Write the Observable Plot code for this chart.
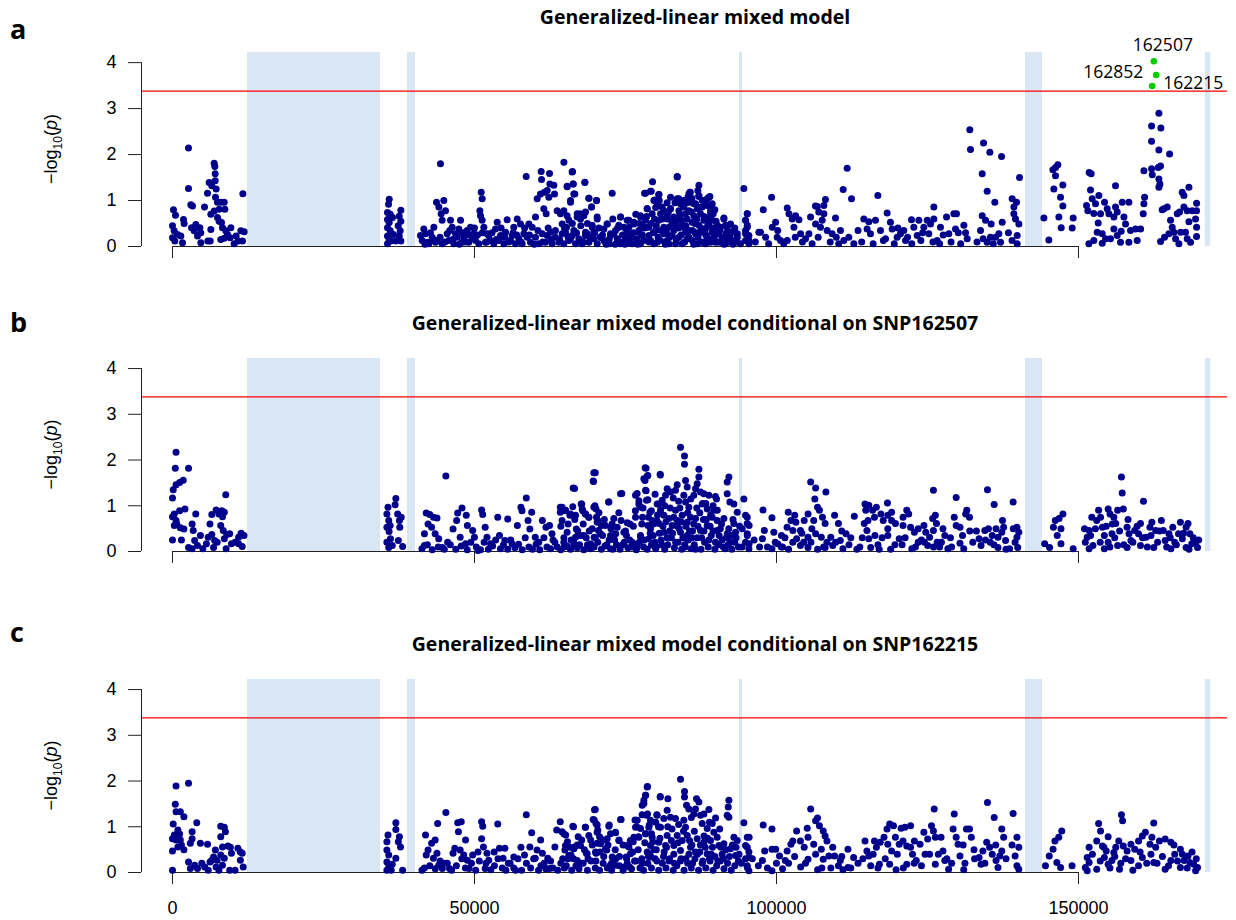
<!DOCTYPE html>
<html>
<head>
<meta charset="utf-8">
<script src="https://cdn.jsdelivr.net/npm/d3@7"></script>
<script src="https://cdn.jsdelivr.net/npm/@observablehq/plot@0.6"></script>
<style>
  body { margin: 0; background: #fff; }
  #chart { position: relative; width: 1236px; height: 920px; overflow: hidden; background: #fff; }
  #chart svg { position: absolute; left: 0; }
  .ptitle { position: absolute; font-family: "Open Sans", Lato, sans-serif; font-weight: 700; font-size: 19.5px; line-height: 1; white-space: nowrap; transform: translateX(-50%); color: #000; }
  .pletter { position: absolute; font-family: "Open Sans", Lato, sans-serif; font-weight: 700; font-size: 27px; line-height: 1; color: #000; }
</style>
</head>
<body>
<div id="chart"></div>
<script>
// ---------- data ----------
const panelLetters = ["a", "b", "c"];
const panelTitles = [
  "Generalized-linear mixed model",
  "Generalized-linear mixed model conditional on SNP162507",
  "Generalized-linear mixed model conditional on SNP162215"
];
const xTicks = [0, 50000, 100000, 150000];
const yTicks = [0, 1, 2, 3, 4];
const threshold = 3.38;
const gapStarts = [12420, 38900, 93870, 141230, 171000];
const gapEnds   = [34440, 40230, 94370, 144040, 171900];

const highlightPos = [162480, 162870, 162210];
const highlightLogp = [4.03, 3.73, 3.49];
const highlightLabels = ["162507", "162852", "162215"];

const snpsA = [
[165,0.80],[500,0.68],[0,0.45],[275,0.34],[0,0.19],[390,0.12],[830,0.26],[1380,0.23],[1660,0.08],[1820,0.59],[1930,0.50],[2650,2.14],[2650,1.26],[3040,0.91],[3310,0.88],[3150,0.41],[3590,0.34],[3860,0.48],[4140,0.23],[4530,0.41],[4690,0.08],[5300,0.86],[5800,1.16],[5850,0.12],[6240,0.12],[6070,1.39],[6350,0.70],[6350,0.37],[6510,1.32],[6900,1.81],[7010,1.74],[7070,1.58],[7070,1.43],[7230,1.25],[7120,1.07],[6900,0.77],[7450,0.96],[7730,0.81],[8000,0.96],[8560,0.96],[8670,0.81],[7450,0.63],[7730,0.55],[8110,0.52],[8280,0.41],[8830,0.34],[8560,0.18],[9110,0.26],[9660,0.41],[9550,0.19],[10210,0.06],[10540,0.23],[10870,0.12],[11320,0.34],[11650,1.15],[11870,0.32],[11590,0.12],[8000,0.15],[4690,0.30],
[35880,1.03],[35770,0.92],[35600,0.74],[36050,0.70],[35600,0.59],[35880,0.52],[35600,0.41],[36050,0.34],[35600,0.23],[35880,0.15],[35600,0.06],[36430,0.63],[36600,0.26],[36980,0.12],[37810,0.79],[37540,0.66],[37810,0.55],[37370,0.45],[37700,0.34],[37540,0.23],[37810,0.12],[36160,0.12],
[41610,0.38],[41890,0.28],[41340,0.13],[42160,0.09],[42990,0.20],[43270,0.42],[43710,0.96],[44100,0.86],[44480,0.71],[44920,1.00],[44370,1.80],[44650,0.57],[45200,0.78],[43820,0.13],[45480,0.28],[46030,0.57],[46310,0.42],[46860,0.28],[47690,0.57],[47410,0.38],[48240,0.20],[48790,0.35],[49340,0.42],[49890,0.28],[50170,0.13],[50890,0.78],[51110,1.18],[51270,1.04],[51000,0.67],[51270,0.57],[51550,0.42],[52100,0.28],[52650,0.13],[53760,0.53],[53480,0.38],[54310,0.24],[55410,0.58],[55960,0.13],[56510,0.42],[57070,0.60],[57620,0.49],[58560,1.52],[58170,0.28],[59000,0.49],[59550,0.42],[60100,0.64],[60380,1.04],[60930,1.14],[61040,1.63],[61100,1.46],[61590,1.18],[62040,1.22],[62420,1.59],[62480,1.36],[62310,1.07],[63140,1.33],[63250,1.14],[61480,0.82],[61870,0.71],[62590,0.31],[62040,0.24],[63690,0.78],[64240,0.71],[64800,1.83],[65350,1.30],[66230,1.63],[66340,1.36],[66450,1.14],[65900,1.00],[65240,0.42],[65630,0.57],[66450,0.35],[67000,0.64],[67550,0.71],[68270,1.40],[68110,0.67],[68940,1.05],[69380,0.86],[70210,1.00],[70320,0.60],[68660,0.28],[69490,0.42],[70870,0.20],[71970,0.49],[72800,1.16],[73080,0.28],[74180,0.64],[74730,0.42],[75560,0.57],[76390,0.49],[77490,0.64],[78320,1.16],[78600,0.82],[79260,1.20],[79480,1.41],[79700,1.00],[80250,0.93],[80530,1.13],[81360,0.78],[81910,0.67],[82460,0.82],[83570,1.52],[83840,1.04],[83290,0.57],[84670,0.86],[85330,1.07],[85660,1.18],[86320,0.93],[87150,1.33],[87150,1.11],[87700,1.00],[88530,0.89],[88810,1.07],[89080,0.71],[89360,0.57],[89910,0.35],[91290,0.60],[91840,0.42],[92950,0.31],[93500,0.20],[95160,0.71],[94600,1.26],[94880,0.57],[95160,0.42],[95430,0.13],[94880,0.28],
[41060,0.24],[42440,0.06],[43540,0.09],[44650,0.06],[45750,0.13],[46580,0.06],[47130,0.20],[47960,0.09],[49060,0.09],[49620,0.20],[50720,0.06],[51820,0.09],[52380,0.24],[53200,0.06],[54030,0.13],[54860,0.06],[55140,0.31],[56240,0.24],[56790,0.06],[57340,0.17],[57900,0.06],[58720,0.20],[59270,0.09],[60100,0.20],[60660,0.06],[61210,0.28],[61760,0.09],[62860,0.06],[63410,0.20],[63970,0.09],[64520,0.28],[64800,0.06],[65630,0.13],[66180,0.24],[66730,0.06],[67280,0.17],[67830,0.06],[68380,0.24],[68940,0.09],[69760,0.17],[70320,0.06],[71420,0.13],[72250,0.06],[72520,0.28],[73630,0.17],[74180,0.06],[75010,0.13],[75840,0.28],[76110,0.06],[76940,0.17],[77210,0.35],
[66170,1.62],[65340,1.31],[66340,1.36],[68270,1.39],[66610,1.14],[65900,0.96],[64790,0.78],[65340,0.67],[64520,0.49],[65070,0.31],[65900,0.17],[67000,0.71],[67550,0.60],[68380,0.75],[68930,1.05],[69370,0.86],[70200,1.00],[70310,0.64],[69480,0.46],[68380,0.31],[69760,0.31],[67550,0.13],[71690,0.09],[71970,0.49],[73350,0.35],[74180,0.64],[73900,0.46],[75280,0.57],[75560,0.42],[75000,0.20],[76380,0.53],[77490,0.67],[77210,0.31],[78150,1.16],[79140,1.20],[80520,1.13],[79860,1.01],[78590,0.82],[78320,0.57],[79420,0.71],[80800,0.71],[80520,0.57],[81350,0.42],[79970,0.35],[78870,0.24],[78040,0.13],[80800,0.13],[79700,0.06],[83560,1.51],[83560,1.04],[82460,0.82],[83010,0.64],[83840,0.78],[81900,0.60],[82180,0.42],[83280,0.46],[84110,0.60],[84660,0.42],[82730,0.24],[83840,0.20],[81900,0.13],[83280,0.06],[84390,0.06],[84940,0.31],[85490,1.14],[85730,1.18],[86980,1.22],[87150,1.09],[85770,0.96],[86600,0.93],[85490,0.78],[86320,0.67],[86870,0.82],[87420,0.71],[86050,0.53],[87150,0.46],[85490,0.35],[86600,0.28],[87700,0.31],[86050,0.13],[87420,0.09],[88530,1.04],[88970,1.09],[89360,0.93],[89080,0.78],[89520,0.71],[88530,0.60],[88810,0.46],[88530,0.20],[89360,0.31],[89910,0.09],[90460,0.28],[91290,0.62],[91560,0.46],[92120,0.31],[92950,0.35],[91840,0.17],[93220,0.13],[90740,0.09],[95160,0.71],[94880,0.57],[95160,0.46],[94880,0.35],[95430,0.24],[94880,0.13],[95430,0.06],[97080,0.31],
[74180,0.09],[75830,0.07],[76940,0.13],[72520,0.24],[70860,0.20],[71420,0.38],[78870,0.42],[81350,0.28],[81080,0.86],[82460,1.07],[84110,0.93],[84940,0.71],[84660,1.00],[87700,0.86],[87980,0.57],[88250,0.38],[90180,0.46],[90740,0.42],[92390,0.49],[93500,0.28],[85220,0.17],[86870,0.06],[88250,0.06],[89080,0.09],[91560,0.06],[92670,0.09],[94050,0.06],[82180,0.06],[80250,0.09],[79140,0.13],[77490,0.06],[78590,0.42],[77770,0.46],
[74500,0.25],[75200,0.35],[75700,0.15],[76300,0.30],[76700,0.70],[77000,0.05],[77800,0.25],[78100,0.40],[78500,0.65],[78900,0.10],[79200,0.50],[79600,0.30],[80000,0.85],[80100,0.45],[80400,0.20],[80900,0.35],[81100,0.60],[81600,0.05],[81800,0.30],[82100,0.75],[82300,0.20],[82700,0.50],[83000,0.35],[83200,0.95],[83400,0.15],[83800,0.40],[84000,0.70],[84200,0.25],[84500,0.90],[84800,0.10],[85000,0.45],[85200,0.60],[85500,0.20],[85900,0.75],[86100,0.35],[86300,0.05],[86500,0.50],[86800,0.60],[87000,0.20],[87300,0.85],[87500,0.40],[87800,0.10],[88000,0.65],[88300,0.25],[88600,0.45],[88900,0.15],[89100,0.90],[89400,0.40],[89700,0.20],[90000,0.55],[90300,0.10],[90600,0.35],[91000,0.20],[91300,0.05],[91700,0.30],[92000,0.10],[92300,0.20],[92800,0.05],[93100,0.40],[93400,0.10],[80600,1.00],[81900,0.95],[85100,0.95],[86000,1.05],[88000,1.00],[89800,0.80],[82900,0.60],[84300,0.50],[86700,0.30],[79800,0.60],[77300,0.50],[76000,0.20],[74900,0.05],[73700,0.40],[72900,0.60],
[41800,0.05],[42700,0.30],[43100,0.15],[44300,0.20],[45100,0.10],[45900,0.35],[46400,0.15],[47500,0.05],[48000,0.30],[48500,0.10],[49100,0.25],[50000,0.40],[50500,0.25],[51300,0.30],[52000,0.10],[52900,0.30],[53600,0.15],[54400,0.40],[55000,0.20],[55700,0.10],[56400,0.30],[57000,0.25],[57700,0.10],[58300,0.40],[59100,0.25],[59900,0.05],[60500,0.35],[61300,0.10],[62200,0.40],[62700,0.15],[63400,0.35],[64100,0.15],[64900,0.40],[65500,0.20],[66200,0.50],[66900,0.30],[67600,0.45],[68000,0.10],[68700,0.50],[69100,0.20],[69900,0.30],[70600,0.40],[71200,0.25],[71800,0.05],[72300,0.15],[73300,0.05],
[97360,0.31],[97810,0.80],[98190,0.20],[99190,1.07],[99300,0.42],[99850,0.53],[100120,0.20],[100680,0.13],[101780,0.84],[102060,0.71],[102610,0.60],[103160,0.67],[103720,0.58],[102890,0.42],[103990,0.28],[104810,0.17],[105640,0.64],[106750,0.87],[106470,0.49],[105370,0.28],[101780,0.13],
[106450,0.88],[107000,0.75],[107840,0.89],[108110,1.02],[107840,0.71],[107560,0.57],[107280,0.42],[108390,0.35],[109210,0.28],[109770,0.62],[110590,0.35],[111040,1.24],[111700,1.70],[112420,1.04],[111970,0.20],[111150,0.13],[112800,0.06],[114460,0.60],[115290,0.54],[115000,0.38],[115560,0.28],[116390,0.57],[116780,1.11],[117220,0.35],[118050,0.17],[118320,0.73],[118870,0.53],[119150,0.38],[119980,0.20],[120530,0.28],[121080,0.35],[121360,0.13],[122350,0.58],[122740,0.42],[123290,0.24],[123570,0.57],[124400,0.42],[124950,0.57],[125220,0.28],[125500,0.49],[126050,0.86],[126050,0.60],[126600,0.13],[127150,0.42],[128150,0.64],[128530,0.28],[129360,0.71],[129800,0.71],[129640,0.38],[131020,0.46],[131570,0.17],[132010,2.54],[132120,2.11],[134060,1.58],[134280,2.25],[135320,2.05],[137260,1.96],[134880,1.20],[134060,0.67],[134610,0.57],[133780,0.35],[134220,0.17],[134880,0.09],[135540,0.49],[136150,0.96],[136260,0.20],[136810,0.28],[137370,0.53],[137090,0.09],[135430,0.20],[139020,1.04],[139740,0.96],[140240,1.50],[139300,0.71],[139570,0.60],[140130,0.49],[139850,0.24],[139850,0.06],[139300,0.86],
[96500,0.10],[98700,0.06],[100200,0.35],[101200,0.06],[103100,0.20],[104300,0.10],[105900,0.06],[106900,0.20],[108900,0.10],[109900,0.20],[110300,0.06],[113500,0.35],[114100,0.10],[116000,0.06],[117700,0.13],[119500,0.06],[120100,0.40],[121700,0.20],[122400,0.06],[123900,0.13],[124200,0.30],[125900,0.10],[127000,0.06],[127600,0.25],[128900,0.10],[130100,0.30],[130500,0.06],[131300,0.30],[133200,0.10],[135900,0.06],[138400,0.30],[139000,0.13],
[144270,0.62],[145090,0.14],[145760,1.67],[146200,1.72],[146580,1.78],[146200,1.54],[145920,1.25],[147410,1.34],[147030,1.07],[147410,0.88],[146750,0.64],[147140,0.41],[149120,0.62],[148960,0.40],[151770,1.61],[152100,1.58],[151990,1.23],[152270,1.04],[152820,0.93],[153370,1.11],[151330,0.89],[151550,0.78],[152540,0.72],[153260,0.51],[153650,0.71],[154310,0.96],[154750,0.82],[155030,0.71],[156130,1.32],[156130,0.86],[155860,0.64],[156410,0.75],[157240,0.96],[158340,0.96],[157520,0.64],[157790,0.49],[157070,0.33],[158620,0.35],[159450,0.38],[160280,0.38],[153100,0.31],[153930,0.28],[155860,0.38],[156410,0.24],[155300,0.17],[156960,0.09],[158340,0.09],[159720,0.13],[151720,0.06],[152540,0.13],[153930,0.07],[154480,0.17],
[160830,1.65],[162100,1.69],[162210,1.56],[162100,2.29],[162100,2.62],[163310,2.90],[163640,2.58],[163310,2.10],[163200,1.72],[163580,1.75],[163310,1.47],[163480,1.36],[163310,1.29],[165080,2.01],[160940,1.07],[160830,0.93],[160720,0.71],[164140,0.82],[164690,0.86],[163860,0.80],[163590,0.11],[164240,0.20],[165240,0.57],[165520,0.42],[165790,0.31],[166350,0.71],[166730,0.75],[167170,1.18],[167450,1.11],[168280,1.29],[167450,0.86],[168000,0.78],[168280,0.54],[168830,0.78],[169550,0.94],[169550,0.78],[169380,0.60],[169550,0.42],[169550,0.22],[166900,0.31],[167720,0.31],[168000,0.17],[168550,0.09],[166070,0.17],[166620,0.06],[164970,0.28]
];

const snpsB = [
[590,2.17],[470,1.82],[2660,1.82],[120,1.35],[0,1.17],[590,1.46],[1180,1.51],[1780,1.56],[2070,0.93],[1180,0.89],[300,0.82],[0,0.76],[590,0.68],[300,0.57],[710,0.60],[1300,0.52],[1890,0.49],[0,0.25],[1480,0.25],[3250,0.60],[3430,0.46],[3850,0.82],[3670,0.24],[2660,0.09],[3250,0.06],[4140,0.13],[4620,0.35],[5030,0.06],[5620,0.17],[5920,0.31],[6210,0.60],[6510,0.37],[6800,0.09],[6980,0.24],[6510,0.81],[7220,0.91],[7690,0.82],[8170,0.89],[8580,0.86],[8820,1.24],[8280,0.76],[7990,0.57],[8400,0.46],[8990,0.37],[9470,0.39],[8580,0.28],[7400,0.20],[8880,0.06],[9760,0.17],[10360,0.20],[10950,0.31],[11360,0.40],[11830,0.35],[11540,0.11],[10950,0.17],
[35680,0.97],[35500,0.82],[35800,0.68],[35500,0.53],[35860,0.44],[35500,0.20],[35800,0.09],[36090,0.28],[36980,1.16],[36860,1.02],[37280,0.82],[37570,0.68],[37870,0.75],[37630,0.53],[37390,0.24],[38100,0.11],[36390,0.13],[36030,0.57],
[41710,0.13],[42010,0.84],[42600,0.81],[42310,0.60],[41710,0.39],[42900,0.53],[43200,0.75],[43790,0.73],[43490,0.39],[44080,0.28],[44670,0.09],[45260,1.65],[45560,0.20],[46450,0.49],[47040,0.68],[47220,0.84],[47930,0.95],[48640,0.79],[47630,0.31],[48820,0.57],[48520,0.17],[49700,0.46],[49990,0.31],[50580,0.02],[51180,0.91],[51360,0.81],[51770,0.53],[52070,0.31],[52660,0.17],[53850,0.75],[54140,0.35],[55030,0.24],[55500,0.71],[56210,0.17],[57100,0.57],[57690,0.97],[57870,0.89],[58580,1.17],[58870,0.68],[59470,0.86],[59170,0.49],[60060,0.31],[60650,0.20],[61240,0.68],[61830,0.53],[62420,0.57],[62830,0.39],[63310,0.20],[64200,0.97],[64200,0.86],[64500,0.68],[65090,0.89],[65800,0.79],[66570,1.38],[66270,0.98],[66860,0.49],[67750,1.04],[67930,0.89],[68350,0.82],[68930,0.75],[69710,1.53],[70000,1.72],[69940,1.00],[70120,0.93],[70420,0.68],[70530,0.46],[69820,0.31],[71010,0.57],[72200,1.08],[72790,0.60],[73380,0.39],[74390,1.27],[74270,0.68],[75160,0.35],[75750,0.60],[76640,0.89],[76930,1.27],[77230,1.11],[77520,0.97],[78230,1.55],[78410,1.82],[78700,1.66],[78410,1.33],[78700,1.13],[77820,0.75],[79290,0.89],[80470,1.04],[80770,1.67],[80180,0.68],[78700,0.57],[77520,0.31],[76340,0.17],[79590,0.35],
[41300,0.06],[42200,0.15],[43000,0.04],[44000,0.10],[45000,0.05],[46000,0.15],[46900,0.05],[47800,0.12],[48800,0.04],[49400,0.20],[50300,0.10],[51000,0.04],[51600,0.20],[52300,0.05],[53000,0.12],[53500,0.25],[54300,0.06],[54800,0.15],[55500,0.05],[56000,0.25],[56700,0.08],[57300,0.16],[57900,0.04],[58400,0.30],[59000,0.10],[59600,0.05],[60200,0.16],[60800,0.04],[61500,0.30],[62000,0.10],[62600,0.06],[63000,0.25],[63700,0.10],[64300,0.04],[64800,0.30],[65300,0.12],[65900,0.05],[66400,0.20],[67000,0.08],[67500,0.35],[68100,0.04],[68700,0.15],[69200,0.06],[69800,0.10],[70400,0.20],[71000,0.05],[71600,0.12],[72300,0.25],[72900,0.05],[73500,0.15],[74100,0.05],[74800,0.20],[75400,0.08],[76000,0.10],[76800,0.04],[77300,0.20],[78000,0.10],[78600,0.05],[79300,0.15],[80000,0.06],
[66340,1.39],[69760,1.72],[69650,1.54],[67660,1.04],[67830,0.93],[66720,0.79],[65900,0.82],[65070,0.90],[64520,0.97],[68380,0.82],[68930,0.75],[69760,0.97],[70200,0.75],[70310,0.64],[72250,1.08],[74180,1.26],[71690,0.57],[73070,0.72],[73630,0.53],[75280,0.63],[74730,0.42],[72520,0.35],[70860,0.39],[69480,0.50],[68110,0.35],[66720,0.31],[65340,0.42],[64790,0.20],[66450,0.13],[69210,0.17],[72520,0.06],[76660,1.23],[77210,1.04],[76660,0.75],[77490,0.35],[76110,0.20],[78260,1.83],[78040,1.59],[78590,1.65],[78320,1.34],[78480,1.12],[79040,0.86],[79420,0.68],[79140,0.50],[78870,0.28],[79700,0.13],[80740,1.69],[80250,1.04],[80800,0.90],[81080,1.12],[81630,1.23],[81900,1.37],[82460,1.30],[83280,1.34],[83560,1.46],[82900,1.17],[81350,0.79],[82180,0.72],[80520,0.61],[81350,0.42],[82730,0.57],[83280,0.90],[83560,0.68],[84110,2.28],[84770,2.09],[84770,1.91],[84940,1.55],[85220,1.41],[84660,1.23],[84940,1.08],[85490,0.97],[84390,0.79],[85220,0.64],[85770,0.75],[84110,0.42],[85220,0.35],[86320,1.23],[86600,1.37],[87150,1.80],[87150,1.63],[86870,1.48],[87420,1.30],[87980,1.26],[88810,1.23],[87700,1.04],[88530,0.93],[89630,0.90],[90070,1.15],[89360,0.75],[90180,0.68],[91290,0.72],[86600,0.72],[87420,0.46],[88530,0.57],[90180,0.46],[91840,1.52],[92120,1.63],[91840,1.26],[92280,1.08],[92950,1.04],[93500,0.86],[92950,0.61],[91840,0.39],[93220,0.42],[94600,1.15],[94880,0.79],[95160,0.61],[94330,0.50],[95160,0.39],[94880,0.20],[95430,0.06],
[80100,0.10],[80900,0.25],[81500,0.05],[82000,0.15],[82600,0.30],[83100,0.08],[83700,0.20],[84300,0.05],[84800,0.15],[85400,0.25],[85900,0.06],[86400,0.15],[86900,0.30],[87500,0.05],[88100,0.20],[88700,0.10],[89200,0.35],[89800,0.05],[90400,0.15],[91000,0.25],[91500,0.06],[92000,0.15],[92600,0.05],[93100,0.20],[93700,0.10],[81200,0.55],[82300,0.45],[83900,0.50],[85000,0.55],[86100,0.45],[87900,0.70],[89000,0.55],[90700,0.50],[92500,0.35],[84000,0.95],[83000,0.75],[88300,1.05],[89500,1.00],[86800,0.95],
[64300,0.55],[64900,0.10],[65500,0.60],[66000,0.25],[66600,0.70],[67100,0.45],[67400,0.15],[68000,0.60],[68500,0.30],[69000,0.45],[69500,0.10],[70000,0.30],[70600,0.85],[71200,0.35],[71500,0.70],[71900,0.15],[72600,0.50],[73200,0.25],[73900,0.85],[74500,0.15],[75000,0.45],[75700,0.25],[76300,0.55],[76900,0.10],[77700,0.60],[78100,0.25],[78800,0.75],[79100,0.40],[79600,0.60],[79900,0.20],[80300,0.80],[80600,0.40],[81000,0.15],[81700,0.65],[81900,0.30],[82400,0.95],[82800,0.40],[83300,0.20],[83600,0.55],[84200,0.65],[84500,0.30],[84900,0.10],[85300,0.85],[85600,0.45],[86000,0.30],[86300,0.60],[86600,0.05],[87000,0.55],[87300,0.85],[87600,0.30],[88000,0.45],[88400,0.70],[88800,0.25],[89100,0.80],[89500,0.45],[89900,0.20],[90200,0.90],[90500,0.35],[90900,0.60],[91200,0.10],[91700,0.30],[92100,0.50],[92400,0.20],[92800,0.70],[93300,0.30],[93900,0.55],[94300,0.10],[83800,1.10],[85800,1.15],[87800,1.05],[81500,1.00],[89900,1.20],[79900,1.25],[77900,0.95],
[95160,0.75],[95470,0.57],[95160,0.35],[95470,0.17],[97770,0.91],[97990,0.46],[97670,0.28],[99250,0.74],[99560,0.42],[99250,0.06],[100190,0.17],[100820,0.35],[101760,0.53],[101950,0.86],[102390,0.68],[103020,0.79],[103210,0.64],[102710,0.46],[103340,0.28],[103960,0.46],[104590,0.68],[105220,0.82],[105660,1.52],[106480,1.39],[106350,1.15],[106790,0.97],[107110,0.90],[107610,0.75],[108180,1.30],[108050,0.61],[106160,0.68],[105850,0.50],[105220,0.31],[106480,0.39],[107420,0.31],[108360,0.20],[108990,0.31],[109620,0.79],[110250,0.61],[110570,0.24],[111510,0.39],[109310,0.13],[108050,0.09],[105220,0.09],[103960,0.13],[112890,0.77],[114650,1.04],[114780,0.90],[115280,1.01],[115150,0.68],[114530,0.61],[114970,0.46],[115280,0.28],[115600,0.09],[115910,0.90],[116220,0.75],[116540,0.97],[117290,0.82],[117670,0.68],[118370,1.06],[118430,0.79],[119060,0.68],[119060,0.86],[118430,0.50],[117480,0.30],[118430,0.35],[120320,0.28],[119690,0.61],[120950,0.75],[121570,0.90],[121890,0.82],[120950,0.57],[122200,0.53],[122830,0.42],[123460,0.50],[124410,0.57],[124720,0.42],[125350,0.31],[123460,0.20],[125040,0.13],[125980,1.34],[125860,0.72],[126300,0.79],[126490,0.61],[125980,0.46],[126610,0.20],[127560,0.50],[127870,0.35],[128370,0.06],[129750,1.18],[129430,0.75],[129750,0.57],[130380,0.53],[131510,0.90],[131950,0.75],[131320,0.82],[130380,0.18],[133540,0.28],[133860,0.13],[134490,0.46],[134930,1.35],[135090,0.50],[135720,0.35],[135400,0.20],[136040,1.03],[136350,0.50],[136670,0.31],[136670,0.09],[137420,0.68],[137610,0.53],[137300,0.42],[137920,0.24],[139180,1.08],[139810,0.53],[140120,0.42],[139810,0.31],[139500,0.20],[139940,0.09],
[98500,0.10],[101000,0.10],[102000,0.05],[104500,0.20],[106800,0.05],[109800,0.20],[111000,0.06],[112300,0.30],[113800,0.10],[116800,0.15],[118900,0.05],[120800,0.15],[122400,0.06],[124000,0.25],[127000,0.10],[128800,0.30],[131000,0.06],[132500,0.20],[133100,0.45],[138600,0.06],
[96300,0.25],[97200,0.10],[99800,0.20],[100800,0.10],[101400,0.30],[102700,0.20],[104200,0.40],[105700,0.20],[107800,0.10],[110800,0.45],[112000,0.15],[113300,0.05],[114200,0.30],[116300,0.35],[117000,0.05],[119600,0.15],[121300,0.30],[123000,0.10],[124500,0.20],[126000,0.10],[127300,0.20],[129000,0.10],[130800,0.35],[132000,0.45],[134600,0.25],[136000,0.15],[138000,0.05],[139200,0.50],
[144400,0.17],[145220,0.09],[145850,0.53],[146160,0.68],[146790,0.72],[147420,0.82],[147100,0.50],[146480,0.35],[147100,0.17],[149120,0.06],[151440,0.31],[151130,0.20],[151760,0.46],[152390,0.13],[153020,0.68],[153330,0.90],[153650,0.75],[153960,0.53],[154280,0.35],[154910,0.93],[155220,0.82],[155850,0.75],[156170,0.61],[156480,0.90],[157110,1.63],[157230,1.28],[157420,0.93],[158050,0.53],[158370,0.39],[158680,0.24],[155540,0.39],[154910,0.20],[156480,0.13],[159310,0.46],[159940,0.39],[160760,1.10],[160260,0.61],[161200,0.31],[161830,0.53],[162150,0.64],[162780,0.46],[163090,0.20],[163720,0.68],[164040,0.46],[164350,0.24],[164980,0.39],[165610,0.53],[165930,0.20],[166870,0.64],[166560,0.39],[167190,0.28],[167820,0.53],[168130,0.61],[168450,0.39],[168760,0.17],[169390,0.20],[169710,0.09],[167820,0.09],[165300,0.06],[162460,0.09],[160260,0.13],[158050,0.09],[154280,0.06],[151760,0.06],
[151000,0.50],[152000,0.35],[152800,0.50],[153600,0.20],[154600,0.55],[155200,0.10],[156000,0.30],[156800,0.45],[157500,0.15],[158200,0.70],[159000,0.20],[159700,0.55],[160600,0.30],[161400,0.10],[162000,0.35],[163400,0.45],[164600,0.10],[165200,0.30],[166200,0.15],[167400,0.40],[168300,0.05],[169000,0.30],[169900,0.25],[152200,0.75],[155600,0.60]
];

const snpsC = [
[0,0.05],[590,1.89],[2660,1.95],[470,1.49],[590,1.33],[1300,1.33],[1890,1.22],[120,1.06],[300,0.82],[0,0.74],[590,0.71],[890,0.93],[1180,0.84],[1300,0.71],[1480,0.60],[1890,0.50],[0,0.47],[890,0.56],[3250,0.89],[4020,1.09],[3250,0.74],[2960,0.64],[2660,0.23],[2960,0.09],[3670,0.16],[4140,0.09],[4620,0.64],[4850,0.20],[5330,0.12],[5800,0.62],[6210,0.23],[5920,0.05],[6800,0.34],[7100,0.49],[7220,0.12],[7990,1.01],[8580,0.99],[8760,0.89],[7990,0.78],[8280,0.56],[7990,0.38],[8580,0.31],[8280,0.16],[7690,0.05],[9170,0.58],[9580,0.55],[9470,0.05],[9760,0.42],[10360,0.05],[10830,0.53],[11240,0.45],[11240,0.27],[11710,0.12],[11540,0.42],[6510,0.27],[7400,0.27],
[35500,0.67],[35680,0.82],[35500,0.49],[35800,0.38],[35500,0.23],[35800,0.12],[35500,0.05],[36210,0.05],[36980,1.09],[36980,0.94],[37570,0.78],[37750,0.56],[37390,0.67],[36980,0.31],[38100,0.05],[36390,0.18],
[41710,0.10],[41890,0.82],[42310,0.49],[42010,0.38],[42900,0.64],[43490,0.71],[43200,0.31],[43900,1.07],[43790,0.42],[44080,0.16],[44670,0.09],[45260,1.31],[44970,0.20],[45860,0.09],[46450,0.42],[46740,0.53],[47220,1.09],[47810,1.11],[47340,0.89],[47630,0.49],[48520,0.71],[48220,0.38],[48820,0.27],[49110,0.09],[49700,0.38],[50580,0.45],[51180,1.11],[51360,1.01],[51180,0.74],[51480,0.56],[52070,0.42],[52360,0.27],[51770,0.09],[53850,1.06],[53260,0.45],[54140,0.53],[54730,0.31],[55030,0.53],[55620,0.20],[56510,0.34],[56800,0.05],[57690,0.55],[58280,0.38],[58580,1.26],[59470,0.87],[59170,0.56],[60060,0.31],[60350,0.49],[60950,0.71],[61240,0.42],[61540,0.20],[62130,0.31],[62420,0.09],[63310,0.56],[63610,0.93],[64200,1.11],[64500,0.89],[65090,0.82],[65390,0.67],[64970,0.49],[65980,0.38],[66390,1.00],[66570,0.56],[67160,0.78],[67750,0.71],[68350,0.99],[68520,0.42],[69230,0.71],[70000,1.38],[69820,1.15],[70120,1.07],[70420,0.93],[70300,0.64],[70120,0.42],[70710,0.78],[71310,0.71],[71900,0.49],[72490,0.16],[72310,1.04],[73340,0.87],[73340,0.16],[73930,0.71],[74270,1.16],[75100,0.34],[75570,0.56],[76280,0.67],[76580,1.15],[76870,1.00],[77160,0.78],[77750,1.26],[78050,1.51],[78340,1.69],[78640,1.88],[78640,1.28],[78340,0.85],[78940,1.04],[79530,0.67],[80770,1.66],[80180,1.26],[80470,1.00],[79240,0.34],[77750,0.20],[75690,0.12],[74800,0.12],
[66280,1.01],[68380,0.99],[69870,1.37],[69650,1.16],[70310,1.04],[70310,0.88],[72240,1.01],[72520,0.85],[74180,1.16],[73350,0.88],[71970,0.74],[73900,0.70],[70860,0.63],[68930,0.81],[67550,0.59],[66450,0.52],[64790,0.85],[65070,0.59],[65620,0.37],[67000,0.26],[68660,0.41],[70040,0.45],[71690,0.52],[72800,0.34],[75280,0.59],[75830,0.41],[76940,1.14],[76660,0.99],[77490,0.96],[77210,0.77],[76380,0.77],[78590,1.87],[78320,1.69],[78040,1.58],[77770,1.47],[78480,1.25],[79140,1.14],[78870,0.99],[78320,0.85],[79420,0.77],[79140,0.59],[78590,0.45],[80740,1.65],[80250,1.25],[80800,0.99],[81350,1.18],[81900,1.36],[82020,1.61],[82460,1.21],[83280,1.18],[83560,0.81],[81900,0.81],[80520,0.66],[81630,0.59],[83010,0.59],[84110,2.04],[84770,1.77],[84770,1.65],[85110,1.47],[85490,1.39],[84660,1.14],[84940,0.99],[85220,0.81],[84390,0.70],[84110,0.48],[85770,0.55],[86760,1.61],[87150,1.54],[86600,1.39],[86320,1.28],[87420,1.25],[87980,1.28],[88810,1.38],[87700,1.07],[88530,0.96],[89360,1.07],[89910,1.19],[89630,0.88],[90180,0.77],[89080,0.70],[90460,0.59],[87980,0.66],[86870,0.74],[86600,0.45],[88530,0.41],[91290,0.63],[92120,1.58],[92010,1.43],[91840,1.25],[92120,1.21],[92950,0.77],[93500,0.70],[92390,0.52],[93220,0.37],[94600,1.09],[95160,0.77],[94880,0.59],[95430,0.45],[94880,0.30],[95160,0.15],[95430,0.04],
[41300,0.05],[42600,0.15],[43500,0.08],[44300,0.25],[45500,0.20],[46200,0.05],[47000,0.15],[47900,0.30],[48500,0.10],[49500,0.20],[50200,0.05],[50800,0.25],[51900,0.20],[52700,0.06],[53300,0.15],[53900,0.30],[54600,0.10],[55200,0.05],[55900,0.20],[56500,0.10],[57200,0.30],[57800,0.05],[58600,0.20],[59300,0.10],[59800,0.30],[60600,0.05],[61000,0.15],[61800,0.08],[62600,0.25],[63000,0.10],[63800,0.05],[64300,0.20],[64900,0.10],[65500,0.30],[66100,0.05],[66800,0.15],[67300,0.08],[68000,0.20],[68700,0.05],[69300,0.25],[70000,0.10],[70700,0.05],[71300,0.20],[72000,0.10],[72700,0.05],[73400,0.30],[74000,0.15],[74600,0.05],[75300,0.20],[76000,0.08],[76700,0.25],[77400,0.10],[78000,0.05],[78700,0.20],[79300,0.10],[79900,0.30],[80500,0.05],[81100,0.20],[81700,0.10],[82300,0.30],[82900,0.05],[83500,0.15],[84100,0.25],[84700,0.05],[85300,0.20],[85900,0.10],[86500,0.30],[87100,0.05],[87700,0.20],[88300,0.10],[88900,0.30],[89500,0.05],[90100,0.15],[90700,0.25],[91300,0.08],[91900,0.20],[92500,0.05],[93100,0.15],[93700,0.25],[79000,0.40],[81400,0.45],[83000,0.40],[85500,0.40],[87300,0.45],[89200,0.40],[91000,0.40],[80100,0.50],[86000,0.60],[82600,0.70],[88000,0.80],[76200,0.45],
[64600,0.30],[65200,0.15],[65800,0.55],[66400,0.30],[67000,0.60],[67600,0.20],[68200,0.50],[68800,0.30],[69500,0.60],[70100,0.25],[70800,0.45],[71400,0.35],[72100,0.60],[72700,0.20],[73300,0.50],[74000,0.35],[74600,0.60],[75200,0.30],[75800,0.70],[76500,0.25],[77100,0.50],[77700,0.30],[78200,0.65],[78800,0.35],[79300,0.85],[79700,0.50],[80200,0.25],[80700,0.75],[81300,0.35],[81800,0.55],[82200,0.25],[82700,0.95],[83100,0.20],[83700,0.65],[84200,0.30],[84600,0.90],[85000,0.30],[85600,0.70],[86100,0.20],[86400,0.90],[86900,0.40],[87400,0.60],[87800,0.25],[88200,0.55],[88600,0.75],[89000,0.25],[89400,0.55],[89800,0.35],[90300,0.25],[90800,0.55],[91200,0.30],[91600,0.50],[92200,0.35],[92700,0.60],[93300,0.55],[93800,0.40],[94200,0.20],[80000,1.10],[83800,1.05],[85900,1.20],[88900,1.10],[82000,1.00],[90600,0.95],
[95470,0.77],[95160,0.55],[95470,0.33],[95160,0.11],[97800,1.04],[99250,0.95],[98050,0.47],[97670,0.26],[99250,0.51],[99870,0.51],[99250,0.04],[100500,0.36],[101450,0.26],[101760,0.47],[102390,0.62],[102700,0.69],[103330,0.91],[103960,0.69],[104590,0.55],[105090,0.97],[105220,0.77],[105660,1.39],[106480,1.13],[106790,1.19],[107110,1.02],[107740,0.91],[108050,0.80],[108360,0.69],[106160,0.62],[106480,0.40],[105220,0.29],[107420,0.51],[107740,0.29],[108680,0.36],[109310,0.55],[109620,0.36],[110250,0.15],[110570,0.26],[111830,0.51],[111830,0.11],[112770,0.33],[114650,0.69],[114970,0.47],[115280,0.36],[115600,0.15],[116220,0.69],[116540,0.55],[117170,0.66],[117800,0.77],[118300,0.95],[118740,1.06],[119370,1.02],[118430,0.62],[119060,0.47],[119690,0.77],[120630,0.97],[121260,0.99],[122200,1.02],[120320,0.62],[120950,0.69],[121570,0.58],[122200,0.55],[122520,0.40],[122830,0.69],[123770,0.62],[124400,0.88],[125030,0.73],[125660,1.02],[125980,0.91],[126110,1.39],[126300,0.77],[127240,0.77],[125350,0.40],[126300,0.18],[127560,0.47],[127870,0.26],[128500,0.07],[123140,0.26],[121570,0.18],[118740,0.18],[117040,0.18],[129430,1.28],[129240,0.95],[129750,0.77],[130060,0.62],[130380,0.36],[131450,0.95],[131950,0.95],[132260,0.77],[133540,0.33],[133860,0.18],[134170,0.47],[134800,0.66],[134930,1.53],[135290,0.55],[135720,0.40],[136040,1.20],[136350,0.26],[136670,0.11],[137300,0.95],[137610,0.77],[137300,0.47],[136980,0.36],[139180,1.29],[139810,0.77],[140120,0.55],[139500,0.36],[139810,0.15],[140120,0.07],
[98500,0.10],[101000,0.08],[102000,0.20],[104000,0.12],[106800,0.06],[109000,0.10],[111000,0.06],[113500,0.20],[116800,0.10],[119800,0.06],[124000,0.15],[129000,0.20],[131000,0.06],[132800,0.30],
[96000,0.30],[97000,0.15],[100000,0.20],[103000,0.35],[104800,0.20],[107500,0.10],[110800,0.35],[112300,0.10],[114300,0.30],[116000,0.40],[118000,0.30],[120000,0.40],[121000,0.10],[122800,0.20],[124600,0.40],[126800,0.40],[128200,0.30],[130900,0.60],[131200,0.20],[132700,0.50],[134500,0.20],[136300,0.60],[138000,0.30],[139000,0.60],
[144530,0.15],[145160,0.36],[145790,0.51],[146100,0.69],[146730,0.77],[147230,0.91],[146420,0.22],[147040,0.11],[148930,0.15],[151760,0.55],[151440,0.33],[151130,0.11],[151760,0.22],[153330,1.07],[153650,0.91],[153020,0.69],[153960,0.58],[154590,0.47],[154910,0.78],[154280,0.33],[155540,0.26],[155850,0.44],[156170,0.55],[156670,0.69],[157110,1.26],[157300,1.13],[157420,0.58],[158050,0.47],[158680,0.62],[159310,0.51],[159940,0.69],[160570,0.80],[161070,0.88],[161830,0.62],[162460,1.08],[162150,0.77],[162780,0.55],[163400,0.69],[164350,0.73],[165300,0.66],[165930,0.40],[166870,0.51],[168130,0.36],[168450,0.22],[169080,0.18],[169710,0.11],[169390,0.04],[166870,0.11],[164350,0.07],[162460,0.22],[159940,0.15],[156790,0.07],[154910,0.18],[153020,0.07],[151440,0.04],[158680,0.26],[160570,0.33],[165300,0.26],[167500,0.26],
[152300,0.40],[153600,0.25],[154200,0.55],[155200,0.10],[156000,0.35],[157000,0.20],[157800,0.30],[159000,0.05],[160200,0.45],[161300,0.20],[162000,0.40],[163000,0.20],[163900,0.35],[164900,0.15],[165800,0.60],[166400,0.25],[167200,0.40],[168000,0.10],[168800,0.45],[169500,0.30]
];

// ---------- styling / layout ----------
const xDomain = [-5130, 174670];
const yDomain = [0, 4.22];
const dotColor = "#00008b";
const gapColor = "#d9e6f4";
const hiColor = "#00cd00";
const axisColor = "#222";
const axisFont = "'Liberation Sans', Arial, sans-serif";
const labelFont = "'Open Sans', Lato, sans-serif";
const W = 1236;
const mLeft = 141, mRight = 9, mTop = 52;

const panels = [
  {data: snpsA, top: 0,   plotH: 194, mBottom: 40, xLabels: false, highlights: true,  titleY: 7,   letterY: 15},
  {data: snpsB, top: 306, plotH: 193, mBottom: 40, xLabels: false, highlights: false, titleY: 313, letterY: 308},
  {data: snpsC, top: 627, plotH: 193, mBottom: 48, xLabels: true,  highlights: false, titleY: 634, letterY: 618}
];

const gaps = gapStarts.map((s, i) => ({start: s, end: gapEnds[i]}));
const hiRows = highlightPos.map((p, i) => ({pos: p, logp: highlightLogp[i], label: highlightLabels[i]}));

const chart = document.getElementById("chart");

panels.forEach((pn, idx) => {
  const rows = pn.data.map(([pos, logp]) => ({pos, logp}));
  const marks = [
    Plot.rect(gaps, {x1: "start", x2: "end", y1: yDomain[0], y2: yDomain[1], fill: gapColor}),
    Plot.ruleY([threshold], {stroke: "#ff0000", strokeWidth: 1.3}),
    Plot.ruleX([xDomain[0]], {y1: d3.min(yTicks), y2: d3.max(yTicks), stroke: axisColor, strokeWidth: 1}),
    Plot.ruleY([0], {x1: d3.min(xTicks), x2: d3.max(xTicks), stroke: axisColor, strokeWidth: 1}),
    Plot.axisY(yTicks, {anchor: "left", tickSize: 13, tickPadding: 12, fontSize: 18, fontFamily: axisFont, stroke: axisColor, color: "#000", label: null, tickFormat: d => String(d)}),
    Plot.axisX(xTicks, {anchor: "bottom", tickSize: 12, tickPadding: 17, fontSize: 18, fontFamily: axisFont, stroke: axisColor, color: "#000", label: null,
      tickFormat: pn.xLabels ? (d => String(d)) : (() => "")}),
    Plot.dot(rows, {x: "pos", y: "logp", r: 3.5, fill: dotColor, stroke: "none"})
  ];
  if (pn.highlights) {
    marks.push(Plot.dot(hiRows, {x: "pos", y: "logp", r: 3.3, fill: hiColor, stroke: "none"}));
    marks.push(Plot.text(hiRows.filter((d, i) => i === 0), {x: "pos", y: "logp", text: "label", dx: 9, dy: -16, textAnchor: "middle", fontSize: 17.5, fontFamily: labelFont, fill: "#000"}));
    marks.push(Plot.text(hiRows.filter((d, i) => i === 1), {x: "pos", y: "logp", text: "label", dx: -13, dy: -3, textAnchor: "end", fontSize: 17.5, fontFamily: labelFont, fill: "#000"}));
    marks.push(Plot.text(hiRows.filter((d, i) => i === 2), {x: "pos", y: "logp", text: "label", dx: 11, dy: -3, textAnchor: "start", fontSize: 17.5, fontFamily: labelFont, fill: "#000"}));
  }
  const svg = Plot.plot({
    width: W,
    height: mTop + pn.plotH + pn.mBottom,
    marginLeft: mLeft, marginRight: mRight, marginTop: mTop, marginBottom: pn.mBottom,
    x: {domain: xDomain, axis: null},
    y: {domain: yDomain, axis: null},
    style: {background: "transparent", fontFamily: axisFont, fontSize: "18px", color: "#000", overflow: "visible"},
    marks
  });
  svg.style.top = pn.top + "px";
  // y-axis title with subscript and italic p
  const t = d3.select(svg).append("text")
    .attr("transform", `translate(57, ${mTop + pn.plotH / 2}) rotate(-90)`)
    .attr("text-anchor", "middle")
    .attr("font-family", axisFont)
    .attr("font-size", 18)
    .attr("fill", "#000");
  t.append("tspan").text("\u2212log");
  t.append("tspan").attr("font-size", 12).attr("dy", 5).text("10");
  t.append("tspan").attr("dy", -5).text("(");
  t.append("tspan").attr("font-style", "italic").text("p");
  t.append("tspan").text(")");
  chart.appendChild(svg);

  const title = document.createElement("div");
  title.className = "ptitle";
  title.textContent = panelTitles[idx];
  title.style.left = "695px";
  title.style.top = pn.titleY + "px";
  chart.appendChild(title);

  const letter = document.createElement("div");
  letter.className = "pletter";
  letter.textContent = panelLetters[idx];
  letter.style.left = "10px";
  letter.style.top = pn.letterY + "px";
  chart.appendChild(letter);
});
</script>
</body>
</html>
